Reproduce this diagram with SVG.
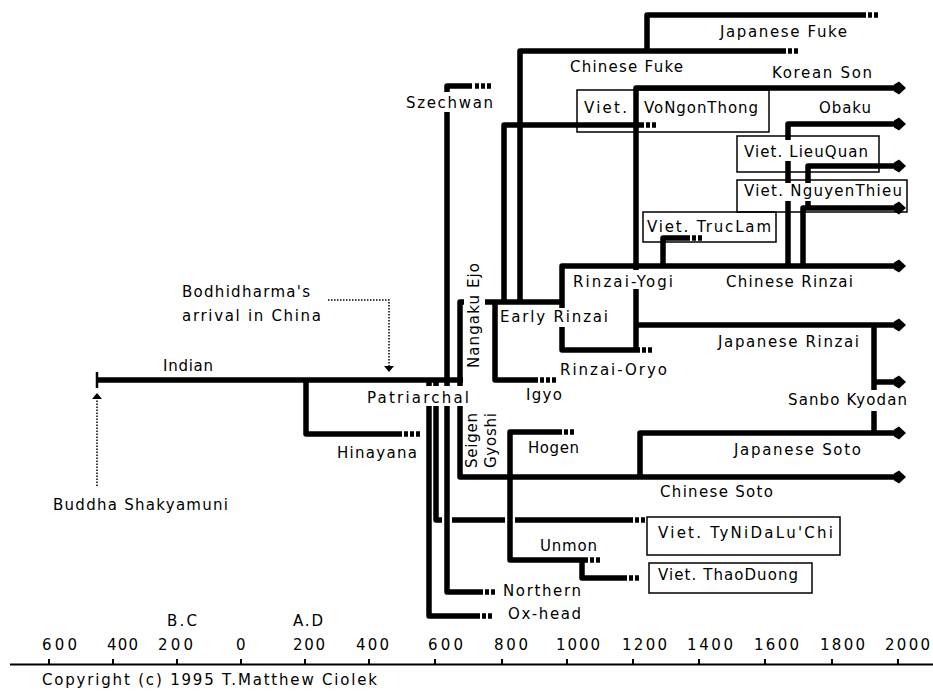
<svg xmlns="http://www.w3.org/2000/svg" width="933" height="692" viewBox="0 0 933 692">
<style>
.ln{fill:none;stroke:#000;stroke-width:5.5;stroke-linejoin:round}
.dt{fill:none;stroke:#000;stroke-width:5.5;stroke-dasharray:4 2}
.dot{fill:none;stroke:#000;stroke-width:1.5;stroke-dasharray:1.5 1.5}
.thin{fill:none;stroke:#000;stroke-width:2}
.box{fill:none;stroke:#000;stroke-width:1.5}
.bg{fill:#fff}
text{font-family:"DejaVu Sans","Liberation Sans",sans-serif;font-size:15px;fill:#000}
</style>
<defs>
<path id="arr" d="M-12,-3.5 L-7,-6.5 L0,0 L-7,6.5 L-12,3.5 Z" fill="#000"/>
</defs>
<rect width="933" height="692" fill="#fff"/>
<g id="connectors">
<path class="ln" d="M436 380 V520 H633"/>
<path class="dt" d="M635 520 H645"/>
<rect class="bg" x="442" y="515" width="10" height="10"/>
<rect class="bg" x="505" y="515" width="10" height="10"/>
<path class="ln" d="M97 380 H463"/>
<path class="thin" d="M97 372 V388" style="stroke-width:2.5"/>
<path class="ln" d="M306 380 V434 H402"/>
<path class="dt" d="M404 434 H420"/>
<path class="ln" d="M447 380 V86 H472"/>
<path class="dt" d="M475 86 H491"/>
<path class="ln" d="M460 380 V302 H562"/>
<path class="ln" d="M460 380 V477 H894"/>
<use href="#arr" x="906" y="477"/>
<path class="ln" d="M429 380 V616 H480"/>
<path class="dt" d="M482 616 H492"/>
<path class="ln" d="M447 380 V592 H483"/>
<path class="dt" d="M485 592 H495"/>
<path class="ln" d="M495 302 V380 H538"/>
<path class="dt" d="M540 380 H556"/>
<path class="ln" d="M504 302 V125 H644"/>
<path class="dt" d="M646 125 H656"/>
<path class="ln" d="M520 302 V51 H786"/>
<path class="dt" d="M788 51 H798"/>
<path class="ln" d="M647 51 V15 H866"/>
<path class="dt" d="M868 15 H878"/>
<path class="ln" d="M894 266 H562 V350 H640"/>
<path class="dt" d="M642 350 H652"/>
<use href="#arr" x="906" y="266"/>
<path class="ln" d="M636 350 V88 H894"/>
<use href="#arr" x="906" y="88"/>
<path class="ln" d="M636 325 H894"/>
<use href="#arr" x="906" y="325"/>
<path class="ln" d="M874 325 V433"/>
<path class="ln" d="M874 382 H894"/>
<use href="#arr" x="906" y="382"/>
<path class="ln" d="M640 477 V433 H894"/>
<use href="#arr" x="906" y="433"/>
<path class="ln" d="M663 266 V238 H690"/>
<path class="dt" d="M692 238 H702"/>
<path class="ln" d="M788 266 V124 H894"/>
<use href="#arr" x="906" y="124"/>
<path class="ln" d="M803 266 V208 H894"/>
<use href="#arr" x="906" y="208"/>
<path class="ln" d="M808 208 V166 H894"/>
<use href="#arr" x="906" y="166"/>
<path class="ln" d="M562 432 H510 V560 H588"/>
<path class="dt" d="M590 560 H600"/>
<path class="dt" d="M564 432 H574"/>
<path class="ln" d="M582 560 V578 H627"/>
<path class="dt" d="M629 578 H639"/>
<path class="dot" d="M328 300 H389 V366"/>
<polygon points="384,366 394,366 389,372" fill="#000"/>
<path class="dot" d="M97 486 V399"/>
<polygon points="92,399 102,399 97,393" fill="#000"/>
</g>
<g id="n-indian"><text x="163" y="371" textLength="50">Indian</text></g>
<g id="n-hinayana"><text x="337" y="458" textLength="80">Hinayana</text></g>
<g id="n-patriarchal"><rect class="bg" x="365" y="386" width="106" height="20"/><text x="367" y="403" textLength="102">Patriarchal</text></g>
<g id="n-szechwan"><rect class="bg" x="404" y="92" width="91" height="20"/><text x="406" y="108" textLength="87">Szechwan</text></g>
<g id="n-nangaku"><rect class="bg" x="464" y="261" width="21" height="109"/><text transform="translate(479,368) rotate(-90)" textLength="105">Nangaku Ejo</text></g>
<g id="n-seigen"><text transform="translate(477,468) rotate(-90)" textLength="55">Seigen</text><text transform="translate(496,468) rotate(-90)" textLength="55">Gyoshi</text></g>
<g id="n-early-rinzai"><rect class="bg" x="498" y="308" width="112" height="19"/><text x="500" y="322" textLength="108">Early Rinzai</text></g>
<g id="n-igyo"><text x="526" y="400" textLength="36">Igyo</text></g>
<g id="n-rinzai-yogi"><rect class="bg" x="571" y="270" width="104" height="19"/><text x="573" y="287" textLength="100">Rinzai-Yogi</text></g>
<g id="n-rinzai-oryo"><text x="560" y="375" textLength="107">Rinzai-Oryo</text></g>
<g id="n-chinese-rinzai"><text x="726" y="287" textLength="127">Chinese Rinzai</text></g>
<g id="n-japanese-rinzai"><text x="718" y="347" textLength="141">Japanese Rinzai</text></g>
<g id="n-sanbo"><rect class="bg" x="786" y="390" width="123" height="21"/><text x="788" y="405" textLength="119">Sanbo Kyodan</text></g>
<g id="n-chinese-fuke"><text x="570" y="72" textLength="113">Chinese Fuke</text></g>
<g id="n-japanese-fuke"><text x="720" y="37" textLength="127">Japanese Fuke</text></g>
<g id="n-korean-son"><text x="772" y="78" textLength="100">Korean Son</text></g>
<g id="n-vongonthong"><rect class="box" x="577" y="90" width="192" height="42"/><rect class="bg" x="582" y="98" width="47" height="21"/><text x="584" y="113" textLength="43">Viet.</text><rect class="bg" x="642" y="98" width="118" height="21"/><text x="644" y="113" textLength="114">VoNgonThong</text></g>
<g id="n-obaku"><text x="819" y="113" textLength="52">Obaku</text></g>
<g id="n-lieuquan"><rect class="box" x="737" y="136" width="142" height="36"/><rect class="bg" x="742" y="140" width="128" height="21"/><text x="744" y="157" textLength="124">Viet. LieuQuan</text></g>
<g id="n-nguyenthieu"><rect class="box" x="737" y="180" width="170" height="32"/><rect class="bg" x="742" y="183" width="162" height="18"/><text x="744" y="196" textLength="158">Viet. NguyenThieu</text></g>
<g id="n-truclam"><rect class="box" x="643" y="212" width="133" height="30"/><text x="647" y="232" textLength="124">Viet. TrucLam</text></g>
<g id="n-hogen"><text x="528" y="453" textLength="51">Hogen</text></g>
<g id="n-japanese-soto"><text x="734" y="455" textLength="127">Japanese Soto</text></g>
<g id="n-chinese-soto"><text x="660" y="497" textLength="113">Chinese Soto</text></g>
<g id="n-tynidaluchi"><rect class="box" x="647" y="517" width="193" height="38"/><text x="658" y="538" textLength="175">Viet. TyNiDaLu'Chi</text></g>
<g id="n-thaoduong"><rect class="box" x="649" y="563" width="163" height="30"/><text x="658" y="580" textLength="140">Viet. ThaoDuong</text></g>
<g id="n-unmon"><text x="540" y="551" textLength="57">Unmon</text></g>
<g id="n-northern"><text x="503" y="596" textLength="78">Northern</text></g>
<g id="n-oxhead"><text x="508" y="619" textLength="73">Ox-head</text></g>
<g id="n-bodhidharma"><text x="182" y="297" textLength="128">Bodhidharma's</text><text x="182" y="321" textLength="139">arrival in China</text></g>
<g id="n-buddha"><text x="53" y="510" textLength="175">Buddha Shakyamuni</text></g>
<g id="axis">
<path class="thin" d="M10 664.5 H933"/>
<path class="thin" d="M49 659 V664 M113 659 V664 M177 659 V664 M241 659 V664 M305 659 V664 M369 659 V664 M435 659 V664 M502 659 V664 M567 659 V664 M633 659 V664 M699 659 V664 M765 659 V664 M832 659 V664 M898 659 V664"/>
<text x="167" y="626" textLength="30">B.C</text>
<text x="293" y="626" textLength="30">A.D</text>
<text x="42" y="650" textLength="35">600</text>
<text x="107" y="650" textLength="31">400</text>
<text x="158" y="650" textLength="35">200</text>
<text x="236" y="650">0</text>
<text x="293" y="650" textLength="32">200</text>
<text x="356" y="650" textLength="33">400</text>
<text x="428" y="650" textLength="35">600</text>
<text x="494" y="650" textLength="34">800</text>
<text x="556" y="650" textLength="44">1000</text>
<text x="622" y="650" textLength="45">1200</text>
<text x="687" y="650" textLength="46">1400</text>
<text x="754" y="650" textLength="45">1600</text>
<text x="820" y="650" textLength="45">1800</text>
<text x="885" y="650" textLength="45">2000</text>
<text x="42" y="685" textLength="335">Copyright (c) 1995 T.Matthew Ciolek</text>
</g>
</svg>
